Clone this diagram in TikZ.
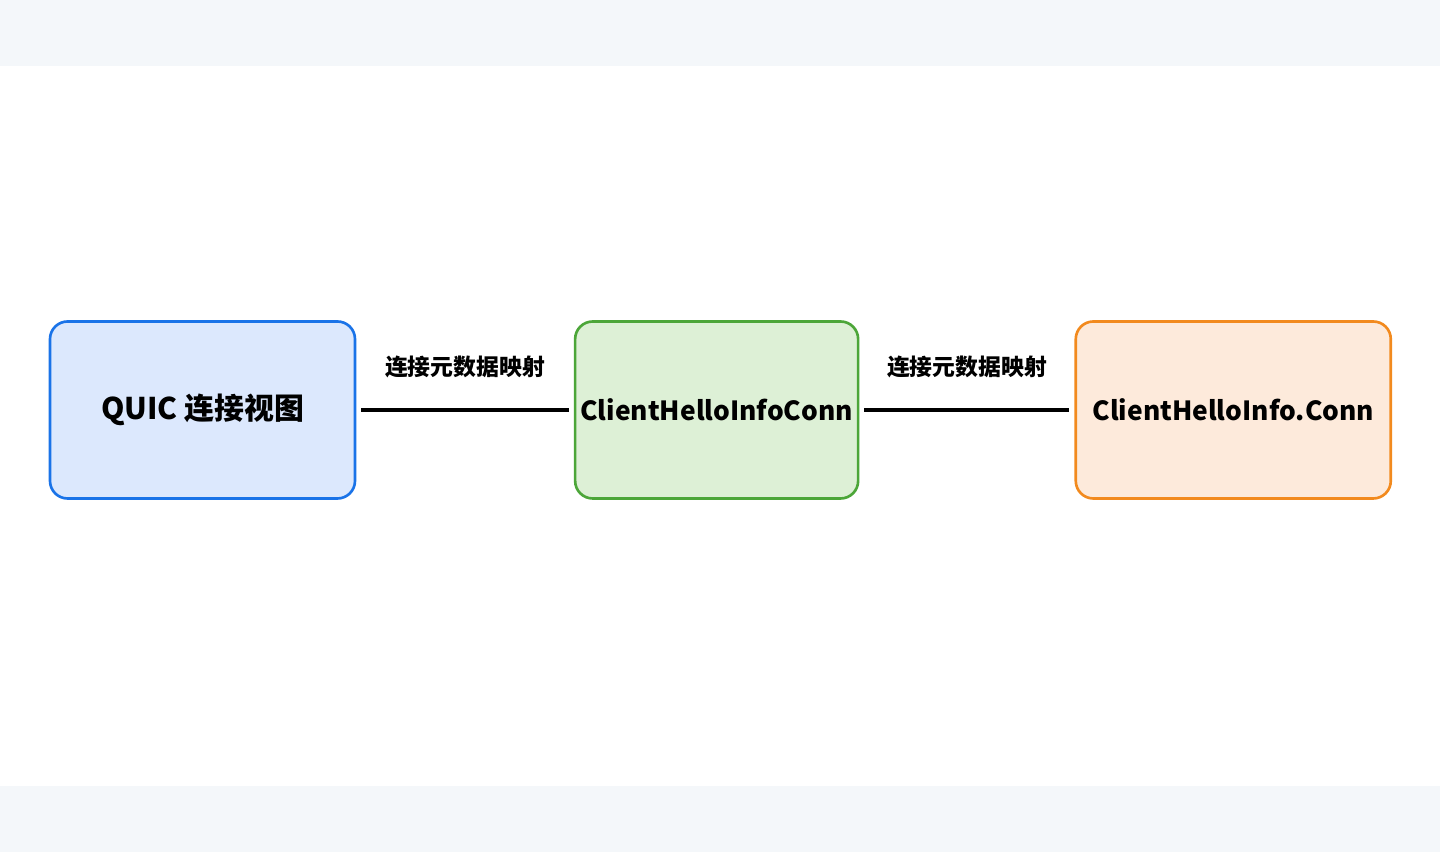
\documentclass[tikz,border=0pt]{standalone}
\usepackage{fontspec}
\setmainfont{Noto Sans CJK SC}
\usetikzlibrary{positioning}
\definecolor{bandgray}{HTML}{F4F7FA}
\definecolor{quicblue}{HTML}{1A73E8}
\definecolor{quicbluefill}{HTML}{DCE8FD}
\definecolor{chgreen}{HTML}{4CA639}
\definecolor{chgreenfill}{HTML}{DDF0D6}
\definecolor{conorange}{HTML}{F28A1E}
\definecolor{conorangefill}{HTML}{FDEADB}
\begin{document}
\begin{tikzpicture}
\tikzstyle{every path}=[line width=1.5pt]
\tikzstyle{viewbox}=[draw,rounded corners=10pt,minimum height=3.54cm,inner sep=0pt,
  font=\fontsize{15}{18}\selectfont\bfseries]
\tikzstyle{maplink}=[line width=1.8pt,shorten <=0.1cm,shorten >=0.1cm]
\tikzstyle{maplabel}=[above=0.5cm,font=\fontsize{13}{16}\selectfont\bfseries]

%% Canvas and bands
\useasboundingbox (0,0) rectangle (28.8,17.04);
\fill[white] (0,0) rectangle (28.8,17.04);
\fill[bandgray] (0,15.72) rectangle (28.8,17.04);
\fill[bandgray] (0,0) rectangle (28.8,1.32);

%% Boxes
\node [viewbox,draw=quicblue,fill=quicbluefill,minimum width=6.1cm,
    font=\fontsize{17}{20}\selectfont\bfseries]
    at (4.05,8.84) (quic) {QUIC 连接视图};
\node [viewbox,draw=chgreen,fill=chgreenfill,minimum width=5.66cm,
    right=4.35cm of quic] (helloconn) {ClientHelloInfoConn};
\node [viewbox,draw=conorange,fill=conorangefill,minimum width=6.3cm,
    right=4.3cm of helloconn] (infoconn) {ClientHelloInfo.Conn};

%% Links
\draw[maplink] (quic.east) -- node[maplabel] {连接元数据映射} (helloconn.west);
\draw[maplink] (helloconn.east) -- node[maplabel] {连接元数据映射} (infoconn.west);
\end{tikzpicture}
\end{document}
